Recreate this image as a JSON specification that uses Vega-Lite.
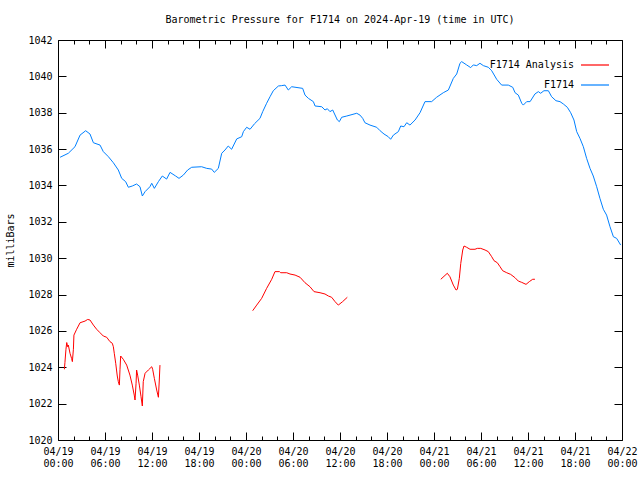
{
  "$schema": "https://vega.github.io/schema/vega-lite/v6.json",
  "width": 564,
  "height": 400,
  "autosize": "none",
  "padding": {"left": 58, "top": 40, "right": 18, "bottom": 40},
  "background": "white",
  "title": {
    "text": "Barometric Pressure for F1714 on 2024-Apr-19 (time in UTC)",
    "font": "DejaVu Sans Mono",
    "fontSize": 10,
    "fontWeight": "normal",
    "color": "black",
    "anchor": "middle",
    "frame": "group",
    "offset": 10
  },
  "config": {
    "view": {"stroke": "black", "strokeWidth": 1},
    "axis": {
      "labelFont": "DejaVu Sans Mono",
      "labelFontSize": 10,
      "labelColor": "black",
      "titleFont": "DejaVu Sans Mono",
      "titleFontSize": 10,
      "titleFontWeight": "normal",
      "titleColor": "black",
      "grid": false,
      "domain": false,
      "tickColor": "black",
      "tickWidth": 1
    },
    "legend": {
      "labelFont": "DejaVu Sans Mono",
      "labelFontSize": 10,
      "labelColor": "black"
    }
  },
  "data": {
    "values": [
      {"t": "2024-04-19T00:16:00Z", "p": 1035.55, "series": "F1714", "seg": "b"},
      {"t": "2024-04-19T01:19:00Z", "p": 1035.77, "series": "F1714", "seg": "b"},
      {"t": "2024-04-19T02:10:00Z", "p": 1036.13, "series": "F1714", "seg": "b"},
      {"t": "2024-04-19T02:49:00Z", "p": 1036.77, "series": "F1714", "seg": "b"},
      {"t": "2024-04-19T03:32:00Z", "p": 1037.01, "series": "F1714", "seg": "b"},
      {"t": "2024-04-19T04:05:00Z", "p": 1036.83, "series": "F1714", "seg": "b"},
      {"t": "2024-04-19T04:31:00Z", "p": 1036.35, "series": "F1714", "seg": "b"},
      {"t": "2024-04-19T05:22:00Z", "p": 1036.22, "series": "F1714", "seg": "b"},
      {"t": "2024-04-19T05:47:00Z", "p": 1035.86, "series": "F1714", "seg": "b"},
      {"t": "2024-04-19T06:26:00Z", "p": 1035.58, "series": "F1714", "seg": "b"},
      {"t": "2024-04-19T07:04:00Z", "p": 1035.25, "series": "F1714", "seg": "b"},
      {"t": "2024-04-19T07:42:00Z", "p": 1034.85, "series": "F1714", "seg": "b"},
      {"t": "2024-04-19T08:08:00Z", "p": 1034.39, "series": "F1714", "seg": "b"},
      {"t": "2024-04-19T08:38:00Z", "p": 1034.21, "series": "F1714", "seg": "b"},
      {"t": "2024-04-19T08:59:00Z", "p": 1033.90, "series": "F1714", "seg": "b"},
      {"t": "2024-04-19T09:29:00Z", "p": 1033.97, "series": "F1714", "seg": "b"},
      {"t": "2024-04-19T10:02:00Z", "p": 1034.08, "series": "F1714", "seg": "b"},
      {"t": "2024-04-19T10:28:00Z", "p": 1033.93, "series": "F1714", "seg": "b"},
      {"t": "2024-04-19T10:46:00Z", "p": 1033.42, "series": "F1714", "seg": "b"},
      {"t": "2024-04-19T11:07:00Z", "p": 1033.66, "series": "F1714", "seg": "b"},
      {"t": "2024-04-19T11:44:00Z", "p": 1033.93, "series": "F1714", "seg": "b"},
      {"t": "2024-04-19T11:58:00Z", "p": 1034.12, "series": "F1714", "seg": "b"},
      {"t": "2024-04-19T12:18:00Z", "p": 1033.84, "series": "F1714", "seg": "b"},
      {"t": "2024-04-19T12:49:00Z", "p": 1034.21, "series": "F1714", "seg": "b"},
      {"t": "2024-04-19T13:19:00Z", "p": 1034.52, "series": "F1714", "seg": "b"},
      {"t": "2024-04-19T13:52:00Z", "p": 1034.35, "series": "F1714", "seg": "b"},
      {"t": "2024-04-19T14:18:00Z", "p": 1034.72, "series": "F1714", "seg": "b"},
      {"t": "2024-04-19T15:01:00Z", "p": 1034.52, "series": "F1714", "seg": "b"},
      {"t": "2024-04-19T15:27:00Z", "p": 1034.39, "series": "F1714", "seg": "b"},
      {"t": "2024-04-19T16:00:00Z", "p": 1034.57, "series": "F1714", "seg": "b"},
      {"t": "2024-04-19T16:33:00Z", "p": 1034.85, "series": "F1714", "seg": "b"},
      {"t": "2024-04-19T17:04:00Z", "p": 1035.00, "series": "F1714", "seg": "b"},
      {"t": "2024-04-19T18:20:00Z", "p": 1035.03, "series": "F1714", "seg": "b"},
      {"t": "2024-04-19T18:59:00Z", "p": 1034.94, "series": "F1714", "seg": "b"},
      {"t": "2024-04-19T19:37:00Z", "p": 1034.90, "series": "F1714", "seg": "b"},
      {"t": "2024-04-19T19:57:00Z", "p": 1034.72, "series": "F1714", "seg": "b"},
      {"t": "2024-04-19T20:28:00Z", "p": 1034.94, "series": "F1714", "seg": "b"},
      {"t": "2024-04-19T20:54:00Z", "p": 1035.77, "series": "F1714", "seg": "b"},
      {"t": "2024-04-19T21:19:00Z", "p": 1035.95, "series": "F1714", "seg": "b"},
      {"t": "2024-04-19T21:44:00Z", "p": 1036.17, "series": "F1714", "seg": "b"},
      {"t": "2024-04-19T22:10:00Z", "p": 1035.99, "series": "F1714", "seg": "b"},
      {"t": "2024-04-19T22:49:00Z", "p": 1036.56, "series": "F1714", "seg": "b"},
      {"t": "2024-04-19T23:27:00Z", "p": 1036.68, "series": "F1714", "seg": "b"},
      {"t": "2024-04-19T23:40:00Z", "p": 1036.96, "series": "F1714", "seg": "b"},
      {"t": "2024-04-20T00:05:00Z", "p": 1037.20, "series": "F1714", "seg": "b"},
      {"t": "2024-04-20T00:31:00Z", "p": 1037.09, "series": "F1714", "seg": "b"},
      {"t": "2024-04-20T01:06:00Z", "p": 1037.40, "series": "F1714", "seg": "b"},
      {"t": "2024-04-20T01:47:00Z", "p": 1037.69, "series": "F1714", "seg": "b"},
      {"t": "2024-04-20T02:08:00Z", "p": 1038.06, "series": "F1714", "seg": "b"},
      {"t": "2024-04-20T02:38:00Z", "p": 1038.52, "series": "F1714", "seg": "b"},
      {"t": "2024-04-20T03:04:00Z", "p": 1038.88, "series": "F1714", "seg": "b"},
      {"t": "2024-04-20T03:29:00Z", "p": 1039.21, "series": "F1714", "seg": "b"},
      {"t": "2024-04-20T04:08:00Z", "p": 1039.47, "series": "F1714", "seg": "b"},
      {"t": "2024-04-20T04:33:00Z", "p": 1039.49, "series": "F1714", "seg": "b"},
      {"t": "2024-04-20T04:59:00Z", "p": 1039.52, "series": "F1714", "seg": "b"},
      {"t": "2024-04-20T05:24:00Z", "p": 1039.25, "series": "F1714", "seg": "b"},
      {"t": "2024-04-20T05:50:00Z", "p": 1039.43, "series": "F1714", "seg": "b"},
      {"t": "2024-04-20T07:14:00Z", "p": 1039.34, "series": "F1714", "seg": "b"},
      {"t": "2024-04-20T07:32:00Z", "p": 1038.97, "series": "F1714", "seg": "b"},
      {"t": "2024-04-20T07:58:00Z", "p": 1038.79, "series": "F1714", "seg": "b"},
      {"t": "2024-04-20T08:36:00Z", "p": 1038.61, "series": "F1714", "seg": "b"},
      {"t": "2024-04-20T08:49:00Z", "p": 1038.37, "series": "F1714", "seg": "b"},
      {"t": "2024-04-20T09:40:00Z", "p": 1038.33, "series": "F1714", "seg": "b"},
      {"t": "2024-04-20T10:05:00Z", "p": 1038.15, "series": "F1714", "seg": "b"},
      {"t": "2024-04-20T10:23:00Z", "p": 1038.22, "series": "F1714", "seg": "b"},
      {"t": "2024-04-20T10:43:00Z", "p": 1038.06, "series": "F1714", "seg": "b"},
      {"t": "2024-04-20T11:04:00Z", "p": 1038.15, "series": "F1714", "seg": "b"},
      {"t": "2024-04-20T11:40:00Z", "p": 1037.60, "series": "F1714", "seg": "b"},
      {"t": "2024-04-20T11:55:00Z", "p": 1037.51, "series": "F1714", "seg": "b"},
      {"t": "2024-04-20T12:13:00Z", "p": 1037.75, "series": "F1714", "seg": "b"},
      {"t": "2024-04-20T12:52:00Z", "p": 1037.82, "series": "F1714", "seg": "b"},
      {"t": "2024-04-20T14:08:00Z", "p": 1037.97, "series": "F1714", "seg": "b"},
      {"t": "2024-04-20T14:33:00Z", "p": 1037.87, "series": "F1714", "seg": "b"},
      {"t": "2024-04-20T14:54:00Z", "p": 1037.69, "series": "F1714", "seg": "b"},
      {"t": "2024-04-20T15:11:00Z", "p": 1037.45, "series": "F1714", "seg": "b"},
      {"t": "2024-04-20T15:50:00Z", "p": 1037.32, "series": "F1714", "seg": "b"},
      {"t": "2024-04-20T16:41:00Z", "p": 1037.20, "series": "F1714", "seg": "b"},
      {"t": "2024-04-20T17:07:00Z", "p": 1037.01, "series": "F1714", "seg": "b"},
      {"t": "2024-04-20T17:37:00Z", "p": 1036.83, "series": "F1714", "seg": "b"},
      {"t": "2024-04-20T18:10:00Z", "p": 1036.68, "series": "F1714", "seg": "b"},
      {"t": "2024-04-20T18:28:00Z", "p": 1036.54, "series": "F1714", "seg": "b"},
      {"t": "2024-04-20T18:49:00Z", "p": 1036.77, "series": "F1714", "seg": "b"},
      {"t": "2024-04-20T19:27:00Z", "p": 1036.96, "series": "F1714", "seg": "b"},
      {"t": "2024-04-20T19:45:00Z", "p": 1037.27, "series": "F1714", "seg": "b"},
      {"t": "2024-04-20T20:10:00Z", "p": 1037.23, "series": "F1714", "seg": "b"},
      {"t": "2024-04-20T20:31:00Z", "p": 1037.45, "series": "F1714", "seg": "b"},
      {"t": "2024-04-20T20:56:00Z", "p": 1037.32, "series": "F1714", "seg": "b"},
      {"t": "2024-04-20T21:35:00Z", "p": 1037.60, "series": "F1714", "seg": "b"},
      {"t": "2024-04-20T22:13:00Z", "p": 1038.00, "series": "F1714", "seg": "b"},
      {"t": "2024-04-20T22:51:00Z", "p": 1038.61, "series": "F1714", "seg": "b"},
      {"t": "2024-04-20T23:42:00Z", "p": 1038.61, "series": "F1714", "seg": "b"},
      {"t": "2024-04-21T00:20:00Z", "p": 1038.85, "series": "F1714", "seg": "b"},
      {"t": "2024-04-21T01:11:00Z", "p": 1039.10, "series": "F1714", "seg": "b"},
      {"t": "2024-04-21T01:50:00Z", "p": 1039.25, "series": "F1714", "seg": "b"},
      {"t": "2024-04-21T02:28:00Z", "p": 1039.89, "series": "F1714", "seg": "b"},
      {"t": "2024-04-21T02:54:00Z", "p": 1040.13, "series": "F1714", "seg": "b"},
      {"t": "2024-04-21T03:19:00Z", "p": 1040.72, "series": "F1714", "seg": "b"},
      {"t": "2024-04-21T03:32:00Z", "p": 1040.81, "series": "F1714", "seg": "b"},
      {"t": "2024-04-21T04:10:00Z", "p": 1040.63, "series": "F1714", "seg": "b"},
      {"t": "2024-04-21T04:41:00Z", "p": 1040.48, "series": "F1714", "seg": "b"},
      {"t": "2024-04-21T05:01:00Z", "p": 1040.63, "series": "F1714", "seg": "b"},
      {"t": "2024-04-21T05:27:00Z", "p": 1040.59, "series": "F1714", "seg": "b"},
      {"t": "2024-04-21T05:52:00Z", "p": 1040.72, "series": "F1714", "seg": "b"},
      {"t": "2024-04-21T06:18:00Z", "p": 1040.59, "series": "F1714", "seg": "b"},
      {"t": "2024-04-21T06:56:00Z", "p": 1040.50, "series": "F1714", "seg": "b"},
      {"t": "2024-04-21T07:22:00Z", "p": 1040.31, "series": "F1714", "seg": "b"},
      {"t": "2024-04-21T08:00:00Z", "p": 1039.84, "series": "F1714", "seg": "b"},
      {"t": "2024-04-21T08:38:00Z", "p": 1039.52, "series": "F1714", "seg": "b"},
      {"t": "2024-04-21T09:29:00Z", "p": 1039.52, "series": "F1714", "seg": "b"},
      {"t": "2024-04-21T10:03:00Z", "p": 1039.40, "series": "F1714", "seg": "b"},
      {"t": "2024-04-21T10:21:00Z", "p": 1039.10, "series": "F1714", "seg": "b"},
      {"t": "2024-04-21T10:46:00Z", "p": 1038.97, "series": "F1714", "seg": "b"},
      {"t": "2024-04-21T11:12:00Z", "p": 1038.52, "series": "F1714", "seg": "b"},
      {"t": "2024-04-21T11:24:00Z", "p": 1038.42, "series": "F1714", "seg": "b"},
      {"t": "2024-04-21T11:50:00Z", "p": 1038.61, "series": "F1714", "seg": "b"},
      {"t": "2024-04-21T12:16:00Z", "p": 1038.61, "series": "F1714", "seg": "b"},
      {"t": "2024-04-21T12:53:00Z", "p": 1039.03, "series": "F1714", "seg": "b"},
      {"t": "2024-04-21T13:19:00Z", "p": 1039.16, "series": "F1714", "seg": "b"},
      {"t": "2024-04-21T13:37:00Z", "p": 1039.07, "series": "F1714", "seg": "b"},
      {"t": "2024-04-21T14:02:00Z", "p": 1039.21, "series": "F1714", "seg": "b"},
      {"t": "2024-04-21T14:36:00Z", "p": 1039.21, "series": "F1714", "seg": "b"},
      {"t": "2024-04-21T15:01:00Z", "p": 1038.88, "series": "F1714", "seg": "b"},
      {"t": "2024-04-21T15:34:00Z", "p": 1038.66, "series": "F1714", "seg": "b"},
      {"t": "2024-04-21T16:05:00Z", "p": 1038.61, "series": "F1714", "seg": "b"},
      {"t": "2024-04-21T16:31:00Z", "p": 1038.48, "series": "F1714", "seg": "b"},
      {"t": "2024-04-21T17:01:00Z", "p": 1038.30, "series": "F1714", "seg": "b"},
      {"t": "2024-04-21T17:27:00Z", "p": 1038.00, "series": "F1714", "seg": "b"},
      {"t": "2024-04-21T17:52:00Z", "p": 1037.60, "series": "F1714", "seg": "b"},
      {"t": "2024-04-21T18:13:00Z", "p": 1036.96, "series": "F1714", "seg": "b"},
      {"t": "2024-04-21T18:38:00Z", "p": 1036.59, "series": "F1714", "seg": "b"},
      {"t": "2024-04-21T19:04:00Z", "p": 1036.13, "series": "F1714", "seg": "b"},
      {"t": "2024-04-21T19:29:00Z", "p": 1035.49, "series": "F1714", "seg": "b"},
      {"t": "2024-04-21T19:55:00Z", "p": 1034.94, "series": "F1714", "seg": "b"},
      {"t": "2024-04-21T20:20:00Z", "p": 1034.52, "series": "F1714", "seg": "b"},
      {"t": "2024-04-21T20:46:00Z", "p": 1033.93, "series": "F1714", "seg": "b"},
      {"t": "2024-04-21T21:11:00Z", "p": 1033.29, "series": "F1714", "seg": "b"},
      {"t": "2024-04-21T21:37:00Z", "p": 1032.69, "series": "F1714", "seg": "b"},
      {"t": "2024-04-21T22:02:00Z", "p": 1032.37, "series": "F1714", "seg": "b"},
      {"t": "2024-04-21T22:28:00Z", "p": 1031.73, "series": "F1714", "seg": "b"},
      {"t": "2024-04-21T22:54:00Z", "p": 1031.18, "series": "F1714", "seg": "b"},
      {"t": "2024-04-21T23:19:00Z", "p": 1031.09, "series": "F1714", "seg": "b"},
      {"t": "2024-04-21T23:50:00Z", "p": 1030.72, "series": "F1714", "seg": "b"},

      {"t": "2024-04-19T00:49:00Z", "p": 1023.89, "series": "F1714 Analysis", "seg": "r1"},
      {"t": "2024-04-19T00:53:00Z", "p": 1024.25, "series": "F1714 Analysis", "seg": "r1"},
      {"t": "2024-04-19T01:01:00Z", "p": 1024.99, "series": "F1714 Analysis", "seg": "r1"},
      {"t": "2024-04-19T01:07:00Z", "p": 1025.36, "series": "F1714 Analysis", "seg": "r1"},
      {"t": "2024-04-19T01:14:00Z", "p": 1025.13, "series": "F1714 Analysis", "seg": "r1"},
      {"t": "2024-04-19T01:19:00Z", "p": 1025.22, "series": "F1714 Analysis", "seg": "r1"},
      {"t": "2024-04-19T01:32:00Z", "p": 1024.77, "series": "F1714 Analysis", "seg": "r1"},
      {"t": "2024-04-19T01:44:00Z", "p": 1024.49, "series": "F1714 Analysis", "seg": "r1"},
      {"t": "2024-04-19T01:50:00Z", "p": 1024.31, "series": "F1714 Analysis", "seg": "r1"},
      {"t": "2024-04-19T01:58:00Z", "p": 1024.99, "series": "F1714 Analysis", "seg": "r1"},
      {"t": "2024-04-19T02:02:00Z", "p": 1025.77, "series": "F1714 Analysis", "seg": "r1"},
      {"t": "2024-04-19T02:23:00Z", "p": 1026.09, "series": "F1714 Analysis", "seg": "r1"},
      {"t": "2024-04-19T02:49:00Z", "p": 1026.45, "series": "F1714 Analysis", "seg": "r1"},
      {"t": "2024-04-19T03:27:00Z", "p": 1026.54, "series": "F1714 Analysis", "seg": "r1"},
      {"t": "2024-04-19T03:47:00Z", "p": 1026.63, "series": "F1714 Analysis", "seg": "r1"},
      {"t": "2024-04-19T04:05:00Z", "p": 1026.60, "series": "F1714 Analysis", "seg": "r1"},
      {"t": "2024-04-19T04:31:00Z", "p": 1026.32, "series": "F1714 Analysis", "seg": "r1"},
      {"t": "2024-04-19T04:56:00Z", "p": 1026.09, "series": "F1714 Analysis", "seg": "r1"},
      {"t": "2024-04-19T05:22:00Z", "p": 1025.90, "series": "F1714 Analysis", "seg": "r1"},
      {"t": "2024-04-19T05:47:00Z", "p": 1025.72, "series": "F1714 Analysis", "seg": "r1"},
      {"t": "2024-04-19T06:13:00Z", "p": 1025.65, "series": "F1714 Analysis", "seg": "r1"},
      {"t": "2024-04-19T06:38:00Z", "p": 1025.41, "series": "F1714 Analysis", "seg": "r1"},
      {"t": "2024-04-19T06:56:00Z", "p": 1025.32, "series": "F1714 Analysis", "seg": "r1"},
      {"t": "2024-04-19T07:04:00Z", "p": 1025.13, "series": "F1714 Analysis", "seg": "r1"},
      {"t": "2024-04-19T07:11:00Z", "p": 1024.77, "series": "F1714 Analysis", "seg": "r1"},
      {"t": "2024-04-19T07:22:00Z", "p": 1024.22, "series": "F1714 Analysis", "seg": "r1"},
      {"t": "2024-04-19T07:34:00Z", "p": 1023.52, "series": "F1714 Analysis", "seg": "r1"},
      {"t": "2024-04-19T07:42:00Z", "p": 1023.21, "series": "F1714 Analysis", "seg": "r1"},
      {"t": "2024-04-19T07:50:00Z", "p": 1023.02, "series": "F1714 Analysis", "seg": "r1"},
      {"t": "2024-04-19T07:55:00Z", "p": 1023.89, "series": "F1714 Analysis", "seg": "r1"},
      {"t": "2024-04-19T08:00:00Z", "p": 1024.62, "series": "F1714 Analysis", "seg": "r1"},
      {"t": "2024-04-19T08:20:00Z", "p": 1024.44, "series": "F1714 Analysis", "seg": "r1"},
      {"t": "2024-04-19T08:46:00Z", "p": 1024.12, "series": "F1714 Analysis", "seg": "r1"},
      {"t": "2024-04-19T09:11:00Z", "p": 1023.57, "series": "F1714 Analysis", "seg": "r1"},
      {"t": "2024-04-19T09:29:00Z", "p": 1023.02, "series": "F1714 Analysis", "seg": "r1"},
      {"t": "2024-04-19T09:44:00Z", "p": 1022.47, "series": "F1714 Analysis", "seg": "r1"},
      {"t": "2024-04-19T09:50:00Z", "p": 1022.20, "series": "F1714 Analysis", "seg": "r1"},
      {"t": "2024-04-19T09:58:00Z", "p": 1023.12, "series": "F1714 Analysis", "seg": "r1"},
      {"t": "2024-04-19T10:02:00Z", "p": 1023.85, "series": "F1714 Analysis", "seg": "r1"},
      {"t": "2024-04-19T10:10:00Z", "p": 1023.57, "series": "F1714 Analysis", "seg": "r1"},
      {"t": "2024-04-19T10:23:00Z", "p": 1023.02, "series": "F1714 Analysis", "seg": "r1"},
      {"t": "2024-04-19T10:36:00Z", "p": 1022.38, "series": "F1714 Analysis", "seg": "r1"},
      {"t": "2024-04-19T10:46:00Z", "p": 1021.87, "series": "F1714 Analysis", "seg": "r1"},
      {"t": "2024-04-19T10:53:00Z", "p": 1023.21, "series": "F1714 Analysis", "seg": "r1"},
      {"t": "2024-04-19T11:07:00Z", "p": 1023.67, "series": "F1714 Analysis", "seg": "r1"},
      {"t": "2024-04-19T11:32:00Z", "p": 1023.85, "series": "F1714 Analysis", "seg": "r1"},
      {"t": "2024-04-19T11:58:00Z", "p": 1024.03, "series": "F1714 Analysis", "seg": "r1"},
      {"t": "2024-04-19T12:05:00Z", "p": 1023.89, "series": "F1714 Analysis", "seg": "r1"},
      {"t": "2024-04-19T12:18:00Z", "p": 1023.39, "series": "F1714 Analysis", "seg": "r1"},
      {"t": "2024-04-19T12:36:00Z", "p": 1022.75, "series": "F1714 Analysis", "seg": "r1"},
      {"t": "2024-04-19T12:49:00Z", "p": 1022.35, "series": "F1714 Analysis", "seg": "r1"},
      {"t": "2024-04-19T12:56:00Z", "p": 1023.30, "series": "F1714 Analysis", "seg": "r1"},
      {"t": "2024-04-19T13:01:00Z", "p": 1024.12, "series": "F1714 Analysis", "seg": "r1"},

      {"t": "2024-04-20T00:51:00Z", "p": 1027.11, "series": "F1714 Analysis", "seg": "r2"},
      {"t": "2024-04-20T01:22:00Z", "p": 1027.42, "series": "F1714 Analysis", "seg": "r2"},
      {"t": "2024-04-20T02:00:00Z", "p": 1027.79, "series": "F1714 Analysis", "seg": "r2"},
      {"t": "2024-04-20T02:38:00Z", "p": 1028.34, "series": "F1714 Analysis", "seg": "r2"},
      {"t": "2024-04-20T03:17:00Z", "p": 1028.84, "series": "F1714 Analysis", "seg": "r2"},
      {"t": "2024-04-20T03:42:00Z", "p": 1029.26, "series": "F1714 Analysis", "seg": "r2"},
      {"t": "2024-04-20T04:16:00Z", "p": 1029.26, "series": "F1714 Analysis", "seg": "r2"},
      {"t": "2024-04-20T04:26:00Z", "p": 1029.20, "series": "F1714 Analysis", "seg": "r2"},
      {"t": "2024-04-20T05:12:00Z", "p": 1029.20, "series": "F1714 Analysis", "seg": "r2"},
      {"t": "2024-04-20T05:37:00Z", "p": 1029.13, "series": "F1714 Analysis", "seg": "r2"},
      {"t": "2024-04-20T06:16:00Z", "p": 1029.07, "series": "F1714 Analysis", "seg": "r2"},
      {"t": "2024-04-20T06:54:00Z", "p": 1028.95, "series": "F1714 Analysis", "seg": "r2"},
      {"t": "2024-04-20T07:32:00Z", "p": 1028.65, "series": "F1714 Analysis", "seg": "r2"},
      {"t": "2024-04-20T08:10:00Z", "p": 1028.43, "series": "F1714 Analysis", "seg": "r2"},
      {"t": "2024-04-20T08:41:00Z", "p": 1028.16, "series": "F1714 Analysis", "seg": "r2"},
      {"t": "2024-04-20T09:27:00Z", "p": 1028.10, "series": "F1714 Analysis", "seg": "r2"},
      {"t": "2024-04-20T10:05:00Z", "p": 1028.03, "series": "F1714 Analysis", "seg": "r2"},
      {"t": "2024-04-20T10:31:00Z", "p": 1027.92, "series": "F1714 Analysis", "seg": "r2"},
      {"t": "2024-04-20T10:56:00Z", "p": 1027.85, "series": "F1714 Analysis", "seg": "r2"},
      {"t": "2024-04-20T11:22:00Z", "p": 1027.61, "series": "F1714 Analysis", "seg": "r2"},
      {"t": "2024-04-20T11:47:00Z", "p": 1027.42, "series": "F1714 Analysis", "seg": "r2"},
      {"t": "2024-04-20T12:20:00Z", "p": 1027.61, "series": "F1714 Analysis", "seg": "r2"},
      {"t": "2024-04-20T12:56:00Z", "p": 1027.85, "series": "F1714 Analysis", "seg": "r2"},

      {"t": "2024-04-21T00:52:00Z", "p": 1028.84, "series": "F1714 Analysis", "seg": "r3"},
      {"t": "2024-04-21T01:42:00Z", "p": 1029.17, "series": "F1714 Analysis", "seg": "r3"},
      {"t": "2024-04-21T02:02:00Z", "p": 1028.98, "series": "F1714 Analysis", "seg": "r3"},
      {"t": "2024-04-21T02:28:00Z", "p": 1028.52, "series": "F1714 Analysis", "seg": "r3"},
      {"t": "2024-04-21T02:49:00Z", "p": 1028.25, "series": "F1714 Analysis", "seg": "r3"},
      {"t": "2024-04-21T02:59:00Z", "p": 1028.29, "series": "F1714 Analysis", "seg": "r3"},
      {"t": "2024-04-21T03:14:00Z", "p": 1028.89, "series": "F1714 Analysis", "seg": "r3"},
      {"t": "2024-04-21T03:25:00Z", "p": 1029.71, "series": "F1714 Analysis", "seg": "r3"},
      {"t": "2024-04-21T03:40:00Z", "p": 1030.45, "series": "F1714 Analysis", "seg": "r3"},
      {"t": "2024-04-21T03:50:00Z", "p": 1030.67, "series": "F1714 Analysis", "seg": "r3"},
      {"t": "2024-04-21T04:10:00Z", "p": 1030.60, "series": "F1714 Analysis", "seg": "r3"},
      {"t": "2024-04-21T04:36:00Z", "p": 1030.49, "series": "F1714 Analysis", "seg": "r3"},
      {"t": "2024-04-21T05:14:00Z", "p": 1030.49, "series": "F1714 Analysis", "seg": "r3"},
      {"t": "2024-04-21T05:32:00Z", "p": 1030.54, "series": "F1714 Analysis", "seg": "r3"},
      {"t": "2024-04-21T05:58:00Z", "p": 1030.54, "series": "F1714 Analysis", "seg": "r3"},
      {"t": "2024-04-21T06:31:00Z", "p": 1030.45, "series": "F1714 Analysis", "seg": "r3"},
      {"t": "2024-04-21T06:56:00Z", "p": 1030.36, "series": "F1714 Analysis", "seg": "r3"},
      {"t": "2024-04-21T07:22:00Z", "p": 1030.08, "series": "F1714 Analysis", "seg": "r3"},
      {"t": "2024-04-21T07:40:00Z", "p": 1029.86, "series": "F1714 Analysis", "seg": "r3"},
      {"t": "2024-04-21T08:05:00Z", "p": 1029.75, "series": "F1714 Analysis", "seg": "r3"},
      {"t": "2024-04-21T08:26:00Z", "p": 1029.53, "series": "F1714 Analysis", "seg": "r3"},
      {"t": "2024-04-21T08:46:00Z", "p": 1029.31, "series": "F1714 Analysis", "seg": "r3"},
      {"t": "2024-04-21T09:17:00Z", "p": 1029.20, "series": "F1714 Analysis", "seg": "r3"},
      {"t": "2024-04-21T09:47:00Z", "p": 1029.11, "series": "F1714 Analysis", "seg": "r3"},
      {"t": "2024-04-21T10:20:00Z", "p": 1028.93, "series": "F1714 Analysis", "seg": "r3"},
      {"t": "2024-04-21T10:46:00Z", "p": 1028.74, "series": "F1714 Analysis", "seg": "r3"},
      {"t": "2024-04-21T11:12:00Z", "p": 1028.67, "series": "F1714 Analysis", "seg": "r3"},
      {"t": "2024-04-21T11:45:00Z", "p": 1028.56, "series": "F1714 Analysis", "seg": "r3"},
      {"t": "2024-04-21T12:10:00Z", "p": 1028.71, "series": "F1714 Analysis", "seg": "r3"},
      {"t": "2024-04-21T12:36:00Z", "p": 1028.84, "series": "F1714 Analysis", "seg": "r3"},
      {"t": "2024-04-21T12:53:00Z", "p": 1028.84, "series": "F1714 Analysis", "seg": "r3"}
    ]
  },
  "resolve": {"axis": {"x": "independent", "y": "independent"}},
  "layer": [
    {
      "mark": {"type": "line", "strokeWidth": 1},
      "encoding": {
        "x": {
          "field": "t", "type": "temporal",
          "scale": {"type": "utc", "domain": [1713484800000, 1713744000000]},
          "axis": {
            "orient": "bottom", "title": null,
            "values": [1713484800000, 1713506400000, 1713528000000, 1713549600000, 1713571200000, 1713592800000, 1713614400000, 1713636000000, 1713657600000, 1713679200000, 1713700800000, 1713722400000, 1713744000000],
            "tickSize": -8,
            "labelExpr": "[utcFormat(datum.value, '%m/%d'), utcFormat(datum.value, '%H:%M')]",
            "labelOverlap": false, "labelPadding": 14, "labelFlush": false
          }
        },
        "y": {
          "field": "p", "type": "quantitative",
          "scale": {"domain": [1020, 1042], "nice": false, "zero": false},
          "axis": {
            "orient": "left", "title": "milliBars", "titlePadding": 12, "format": "d",
            "values": [1020, 1022, 1024, 1026, 1028, 1030, 1032, 1034, 1036, 1038, 1040, 1042],
            "tickSize": -8, "labelPadding": 14
          }
        },
        "color": {
          "field": "series", "type": "nominal",
          "scale": {"domain": ["F1714 Analysis", "F1714"], "range": ["#ff0000", "#0080ff"]},
          "legend": {
            "title": null, "orient": "top-right", "offset": 10, "padding": 0,
            "symbolType": "stroke", "symbolSize": 784, "symbolStrokeWidth": 1.2,
            "labelAlign": "right", "labelOffset": -36, "rowPadding": -6
          }
        },
        "detail": {"field": "seg", "type": "nominal"}
      }
    },
    {
      "mark": {"type": "line", "strokeWidth": 1, "strokeOpacity": 0},
      "encoding": {
        "x": {
          "field": "t", "type": "temporal",
          "axis": {
            "orient": "top", "title": null, "labels": false,
            "values": [1713484800000, 1713506400000, 1713528000000, 1713549600000, 1713571200000, 1713592800000, 1713614400000, 1713636000000, 1713657600000, 1713679200000, 1713700800000, 1713722400000, 1713744000000],
            "tickSize": -8
          }
        },
        "y": {
          "field": "p", "type": "quantitative",
          "axis": {
            "orient": "right", "title": null, "labels": false,
            "values": [1020, 1022, 1024, 1026, 1028, 1030, 1032, 1034, 1036, 1038, 1040, 1042],
            "tickSize": -8
          }
        },
        "detail": {"field": "seg", "type": "nominal"}
      }
    },
    {
      "mark": {"type": "line", "strokeWidth": 1, "strokeOpacity": 0},
      "encoding": {
        "x": {
          "field": "t", "type": "temporal",
          "axis": {
            "orient": "bottom", "title": null, "labels": false,
            "values": [1713492000000, 1713499200000, 1713513600000, 1713520800000, 1713535200000, 1713542400000, 1713556800000, 1713564000000, 1713578400000, 1713585600000, 1713600000000, 1713607200000, 1713621600000, 1713628800000, 1713643200000, 1713650400000, 1713664800000, 1713672000000, 1713686400000, 1713693600000, 1713708000000, 1713715200000, 1713729600000, 1713736800000],
            "tickSize": -4
          }
        },
        "y": {"field": "p", "type": "quantitative", "axis": null},
        "detail": {"field": "seg", "type": "nominal"}
      }
    },
    {
      "mark": {"type": "line", "strokeWidth": 1, "strokeOpacity": 0},
      "encoding": {
        "x": {
          "field": "t", "type": "temporal",
          "axis": {
            "orient": "top", "title": null, "labels": false,
            "values": [1713492000000, 1713499200000, 1713513600000, 1713520800000, 1713535200000, 1713542400000, 1713556800000, 1713564000000, 1713578400000, 1713585600000, 1713600000000, 1713607200000, 1713621600000, 1713628800000, 1713643200000, 1713650400000, 1713664800000, 1713672000000, 1713686400000, 1713693600000, 1713708000000, 1713715200000, 1713729600000, 1713736800000],
            "tickSize": -4
          }
        },
        "y": {"field": "p", "type": "quantitative", "axis": null},
        "detail": {"field": "seg", "type": "nominal"}
      }
    }
  ]
}
